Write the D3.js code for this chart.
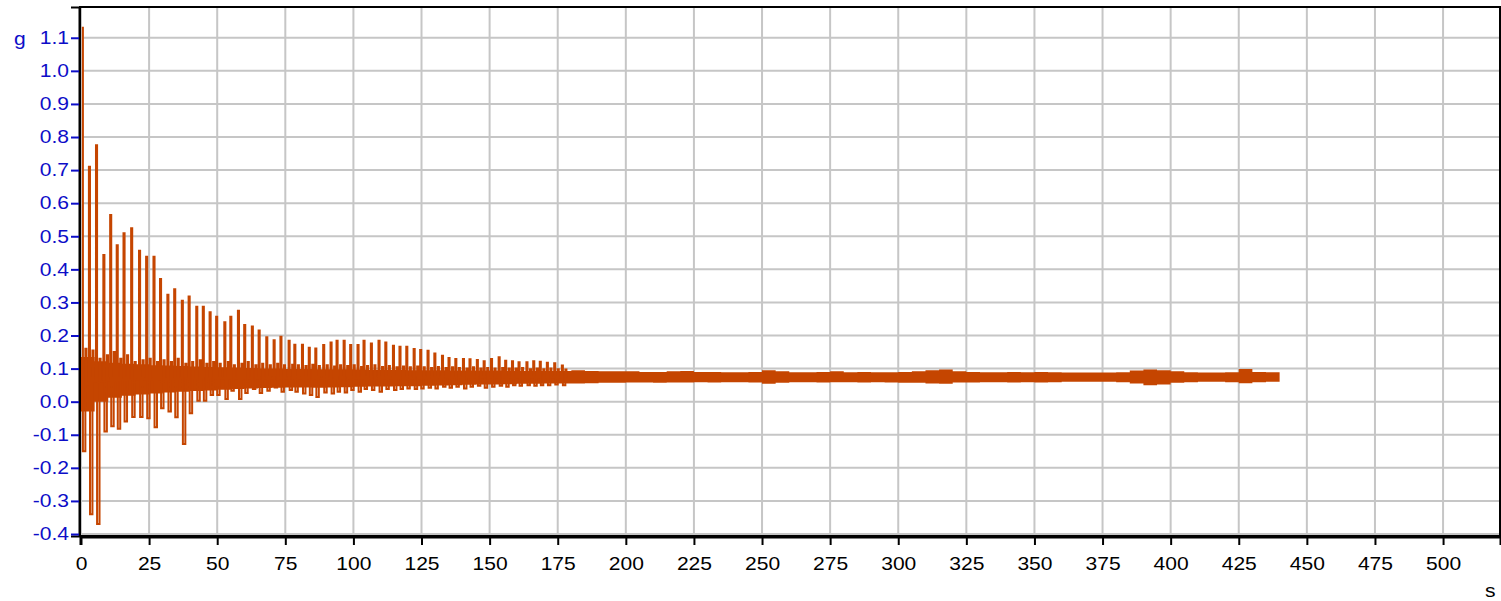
<!DOCTYPE html>
<html>
<head>
    <title>Acceleration trace</title>
    <script src="https://d3js.org/d3.v7.min.js"></script>
    <style>
        body {
            margin: 0;
            background-color: #FFFFFF;
        }
        text {
            font-family: "Liberation Sans", Arial, sans-serif;
        }
    </style>
</head>
<body>
<div id="chart"></div>
<script>
    // Spikes: time (s), peak, trough and rebound value (g)
    var spikeTime = [0.3, 2.9, 5.5, 8.2, 10.7, 13.1, 15.6, 18.4, 21.3, 23.9, 26.6, 29.0, 31.7, 34.2, 37.0, 39.5,
        42.3, 44.7, 47.2, 49.6, 52.6, 54.8, 57.6, 59.9, 62.7, 65.2, 68.0, 70.7, 73.2, 76.2, 78.3, 81.1,
        83.6, 86.0, 88.9, 91.6, 93.8, 96.4, 98.8, 101.5, 103.7, 106.4, 109.2, 111.7, 114.5, 116.9, 119.4,
        122.1, 124.5, 127.2, 129.7, 132.5, 134.9, 137.4, 140.2, 142.6, 145.3, 147.8, 150.5, 153.3, 155.7,
        158.2, 160.6, 163.5, 166.0, 168.4, 171.0, 173.7, 176.5];
    var spikeHigh = [1.13, 0.71, 0.775, 0.443, 0.564, 0.473, 0.509, 0.524, 0.456, 0.438, 0.438, 0.371, 0.323, 0.34, 0.305, 0.318,
        0.287, 0.287, 0.27, 0.257, 0.24, 0.257, 0.275, 0.232, 0.227, 0.215, 0.195, 0.186, 0.196, 0.184, 0.172, 0.172,
        0.163, 0.161, 0.171, 0.179, 0.184, 0.184, 0.171, 0.171, 0.184, 0.176, 0.184, 0.179, 0.169, 0.166, 0.166,
        0.159, 0.156, 0.154, 0.146, 0.139, 0.132, 0.129, 0.129, 0.128, 0.126, 0.122, 0.129, 0.134, 0.124,
        0.122, 0.119, 0.119, 0.122, 0.121, 0.118, 0.116, 0.109];
    var spikeLow = [-0.15, -0.34, -0.37, -0.09, -0.074, -0.082, -0.06, -0.046, -0.046, -0.05, -0.077, -0.02, -0.03, -0.047, -0.128, -0.035,
        0.003, 0.003, 0.02, 0.02, 0.008, 0.033, 0.008, 0.026, 0.038, 0.026, 0.033, 0.043, 0.03, 0.035, 0.03, 0.025,
        0.02, 0.014, 0.028, 0.025, 0.03, 0.028, 0.035, 0.03, 0.038, 0.035, 0.03, 0.038, 0.035, 0.038, 0.04,
        0.038, 0.04, 0.042, 0.04, 0.045, 0.042, 0.045, 0.04, 0.045, 0.048, 0.042, 0.045, 0.048, 0.045,
        0.05, 0.048, 0.05, 0.048, 0.05, 0.05, 0.052, 0.05];
    var spikeRebound = [0.16, 0.155, 0.13, 0.14, 0.15, 0.13, 0.14, 0.12, 0.125, 0.13, 0.12, 0.125, 0.12, 0.13, 0.115, 0.12,
        0.125, 0.115, 0.12, 0.115, 0.12, 0.11, 0.115, 0.12, 0.11, 0.115, 0.11, 0.115, 0.11, 0.112, 0.11, 0.108,
        0.112, 0.108, 0.11, 0.106, 0.11, 0.108, 0.11, 0.105, 0.108, 0.11, 0.105, 0.108, 0.104, 0.106, 0.104,
        0.106, 0.104, 0.102, 0.105, 0.102, 0.104, 0.102, 0.1, 0.104, 0.1, 0.102, 0.1, 0.102, 0.1,
        0.1, 0.102, 0.098, 0.1, 0.098, 0.1, 0.098, 0.097];

    // Dense core of the signal: upper and lower edge every 5 s
    var bandTime = [0, 5, 10, 15, 20, 25, 30, 35, 40, 45, 50, 55, 60, 65, 70, 75, 80, 85, 90, 95,
        100, 105, 110, 115, 120, 125, 130, 135, 140, 145, 150, 155, 160, 165, 170, 175, 180, 185, 190, 195,
        200, 205, 210, 215, 220, 225, 230, 235, 240, 245, 250, 255, 260, 265, 270, 275, 280, 285, 290, 295,
        300, 305, 310, 315, 320, 325, 330, 335, 340, 345, 350, 355, 360, 365, 370, 375, 380, 385, 390, 395,
        400, 405, 410, 415, 420, 425, 430, 435, 440];
    var bandHigh = [0.135, 0.122, 0.118, 0.115, 0.113, 0.11, 0.109, 0.108, 0.106, 0.105, 0.104, 0.103, 0.102, 0.1, 0.1, 0.099, 0.099, 0.098, 0.098, 0.098,
        0.097, 0.096, 0.096, 0.096, 0.095, 0.095, 0.095, 0.094, 0.094, 0.094, 0.094, 0.093, 0.093, 0.093, 0.093, 0.093, 0.095, 0.093, 0.092, 0.092,
        0.092, 0.09, 0.09, 0.092, 0.093, 0.09, 0.09, 0.089, 0.089, 0.09, 0.095, 0.092, 0.089, 0.089, 0.09, 0.092, 0.089, 0.09, 0.089, 0.089,
        0.09, 0.092, 0.095, 0.097, 0.092, 0.09, 0.089, 0.089, 0.09, 0.089, 0.09, 0.089, 0.088, 0.088, 0.088, 0.088, 0.089, 0.094, 0.097, 0.095,
        0.092, 0.089, 0.088, 0.088, 0.089, 0.099, 0.09, 0.089, 0.089];
    var bandLow = [-0.03, 0.0, 0.012, 0.018, 0.022, 0.025, 0.028, 0.03, 0.032, 0.034, 0.036, 0.038, 0.04, 0.041, 0.042, 0.043, 0.043, 0.042, 0.043, 0.044,
        0.045, 0.046, 0.046, 0.047, 0.047, 0.048, 0.049, 0.05, 0.051, 0.052, 0.052, 0.053, 0.054, 0.054, 0.055, 0.055, 0.055, 0.056, 0.057, 0.057,
        0.058, 0.058, 0.057, 0.058, 0.058, 0.059, 0.058, 0.059, 0.059, 0.058, 0.054, 0.057, 0.059, 0.059, 0.058, 0.059, 0.059, 0.058, 0.059, 0.058,
        0.057, 0.057, 0.055, 0.054, 0.058, 0.058, 0.059, 0.059, 0.058, 0.059, 0.058, 0.059, 0.06, 0.06, 0.06, 0.06, 0.059, 0.055, 0.05, 0.052,
        0.057, 0.059, 0.06, 0.06, 0.059, 0.056, 0.059, 0.06, 0.06];

    // Axis ticks
    var xTicks = [0, 25, 50, 75, 100, 125, 150, 175, 200, 225, 250, 275, 300, 325, 350, 375, 400, 425, 450, 475, 500];
    var yTicks = [-0.4, -0.3, -0.2, -0.1, 0.0, 0.1, 0.2, 0.3, 0.4, 0.5, 0.6, 0.7, 0.8, 0.9, 1.0, 1.1];

    var lineColor = "#c54500";
    var axisBlue = "#0d0dc8";
    var stretch = 1.17;   // labels in the source are drawn wide

    var width = 1501, height = 601;
    var plot = { left: 80, right: 1500, top: 7, bottom: 536 };

    var svg = d3.select("#chart")
        .append("svg")
        .attr("width", width)
        .attr("height", height);

    var x = d3.scaleLinear()
        .domain([-0.367, 520.9])
        .range([plot.left, plot.right]);

    var y = d3.scaleLinear()
        .domain([-0.406, 1.193])
        .range([plot.bottom, plot.top]);

    // Grid
    svg.append("g")
        .selectAll("line")
        .data(xTicks)
        .join("line")
        .attr("x1", d => x(d)).attr("x2", d => x(d))
        .attr("y1", plot.top).attr("y2", plot.bottom)
        .attr("stroke", "#c6c6c6")
        .attr("stroke-width", 2);

    svg.append("g")
        .selectAll("line")
        .data(yTicks)
        .join("line")
        .attr("x1", plot.left).attr("x2", plot.right)
        .attr("y1", d => y(d)).attr("y2", d => y(d))
        .attr("stroke", "#c6c6c6")
        .attr("stroke-width", 2);

    // Core band as a stepped area
    var band = bandTime.map(function (t, i) {
        return { t: t, hi: bandHigh[i], lo: bandLow[i] };
    });

    svg.append("path")
        .datum(band)
        .attr("fill", lineColor)
        .attr("d", d3.area()
            .curve(d3.curveStepAfter)
            .x(d => x(d.t))
            .y0(d => y(d.lo))
            .y1(d => y(d.hi)));

    // Spikes as a stepped line: peak, trough, rebound, back to core
    var dt = 0.4;
    var pts = [];
    spikeTime.forEach(function (t, i) {
        var b = band[Math.min(band.length - 1, Math.round(t / 5))];
        pts.push({ t: t, v: spikeHigh[i] });
        pts.push({ t: t + dt, v: spikeLow[i] });
        pts.push({ t: t + 1.3, v: spikeRebound[i] });
        pts.push({ t: t + 1.3 + dt, v: (b.hi + b.lo) / 2 });
    });

    svg.append("path")
        .datum(pts)
        .attr("fill", "none")
        .attr("stroke", lineColor)
        .attr("stroke-width", 2)
        .attr("d", d3.line()
            .curve(d3.curveStepAfter)
            .x(d => x(d.t))
            .y(d => y(d.v)));

    // Frame
    svg.append("rect")
        .attr("x", plot.left)
        .attr("y", plot.top)
        .attr("width", plot.right - plot.left)
        .attr("height", plot.bottom - plot.top)
        .attr("fill", "none")
        .attr("stroke", "#000")
        .attr("stroke-width", 2);

    // Y axis (blue)
    var yAxis = svg.append("g")
        .attr("transform", "translate(" + (plot.left - 1) + ",0)")
        .call(d3.axisLeft(y).tickValues(yTicks).tickSize(8));
    yAxis.select(".domain").attr("stroke", "#000").attr("stroke-width", 2);
    yAxis.selectAll(".tick line").attr("stroke", axisBlue).attr("stroke-width", 2);
    yAxis.selectAll(".tick text")
        .attr("fill", axisBlue)
        .attr("x", -10 / stretch)
        .attr("transform", "scale(" + stretch + ",1)")
        .style("font-size", "18px")
        .text(d => d3.format(".1f")(d).replace("−", "-"));

    // X axis (black)
    var xAxis = svg.append("g")
        .attr("transform", "translate(0," + (plot.bottom + 1) + ")")
        .call(d3.axisBottom(x).tickValues(xTicks).tickSize(8).tickPadding(12));
    xAxis.select(".domain").attr("stroke", "#000").attr("stroke-width", 2);
    xAxis.selectAll(".tick line").attr("stroke", "#000").attr("stroke-width", 2);
    xAxis.selectAll(".tick text")
        .attr("fill", "#000")
        .attr("transform", "scale(" + stretch + ",1)")
        .style("font-size", "18px");

    // Unit labels
    svg.append("text")
        .attr("transform", "translate(14,45) scale(" + stretch + ",1)")
        .attr("fill", axisBlue)
        .style("font-size", "18px")
        .text("g");

    svg.append("text")
        .attr("transform", "translate(1485,597) scale(" + stretch + ",1)")
        .attr("fill", "#000")
        .style("font-size", "18px")
        .text("s");
</script>
</body>
</html>
